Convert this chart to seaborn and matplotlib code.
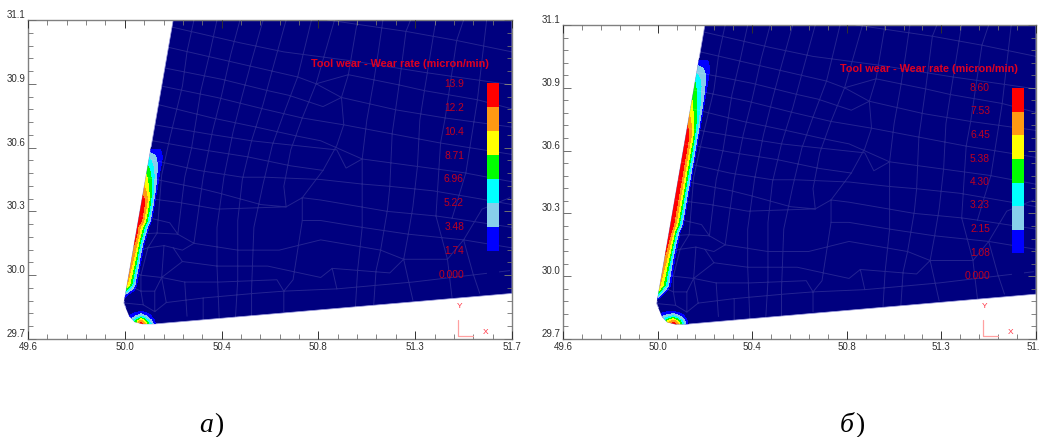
import numpy as np
import seaborn as sns
import matplotlib
matplotlib.use('Agg')
import matplotlib.pyplot as plt
from matplotlib.lines import Line2D
from matplotlib.patches import Polygon
from matplotlib.ticker import AutoMinorLocator

# Tool outline, mm
tool_outline = [(50.23, 31.10), (50.016, 29.858), (50.04, 29.80), (50.063, 29.775), (50.098, 29.766),
                (50.15, 29.766), (51.70, 29.90), (51.70, 31.10)]

# Finite element mesh (both panels use the same one)
mesh_rows = [
    [(50.90, 31.10), (51.24, 31.05), (51.46, 31.01), (51.70, 30.96)],
    [(50.22, 31.07), (50.52, 31.00), (50.71, 30.96), (51.01, 30.92), (51.32, 30.87), (51.70, 30.815)],
    [(50.21, 30.98), (50.77, 30.85), (50.85, 30.82), (50.96, 30.76), (51.20, 30.705), (51.41, 30.67), (51.70, 30.63)],
    [(50.85, 30.82), (50.99, 30.86), (51.21, 30.815), (51.32, 30.79), (51.55, 30.75), (51.70, 30.71)],
    [(50.19, 30.89), (50.44, 30.84), (50.64, 30.79), (50.73, 30.77), (50.88, 30.72), (50.96, 30.76)],
    [(50.18, 30.81), (50.42, 30.76), (50.62, 30.71), (50.79, 30.67), (50.97, 30.64), (51.18, 30.60), (51.39, 30.56), (51.70, 30.51)],
    [(50.16, 30.73), (50.40, 30.67), (50.59, 30.63), (50.77, 30.59), (50.87, 30.57), (51.05, 30.49), (51.27, 30.46), (51.49, 30.43), (51.70, 30.39)],
    [(50.15, 30.64), (50.38, 30.60), (50.57, 30.57), (50.66, 30.56), (50.94, 30.53), (50.98, 30.45), (51.05, 30.49)],
    [(50.14, 30.57), (50.36, 30.53), (50.55, 30.50), (50.74, 30.46), (50.88, 30.44)],
    [(50.12, 30.49), (50.34, 30.44), (50.53, 30.41), (50.63, 30.41), (50.87, 30.40), (51.05, 30.38), (51.17, 30.37), (51.36, 30.35), (51.59, 30.31), (51.70, 30.29)],
    [(50.11, 30.41), (50.35, 30.36), (50.43, 30.34), (50.61, 30.29), (50.72, 30.28), (50.79, 30.32)],
    [(50.10, 30.32), (50.25, 30.30), (50.42, 30.27), (50.72, 30.28)],
    [(50.79, 30.32), (50.87, 30.31), (51.16, 30.26), (51.37, 30.24), (51.44, 30.23), (51.70, 30.19)],
    [(50.09, 30.24), (50.215, 30.21), (50.25, 30.16), (50.32, 30.12), (50.51, 30.09), (50.69, 30.09), (50.87, 30.135), (51.13, 30.09), (51.23, 30.05), (51.42, 30.05), (51.49, 30.135), (51.57, 30.27), (51.69, 30.32)],
    [(50.79, 30.22), (50.87, 30.22), (51.05, 30.19), (51.25, 30.16), (51.49, 30.135), (51.70, 30.10)],
    [(50.07, 30.16), (50.16, 30.165), (50.25, 30.16)],
    [(50.055, 30.08), (50.12, 30.10), (50.19, 30.11), (50.23, 30.10), (50.27, 30.09), (50.32, 30.12)],
    [(50.04, 30.00), (50.09, 29.98), (50.18, 29.97), (50.27, 30.04), (50.42, 30.02), (50.64, 30.02), (50.87, 29.97), (50.92, 30.01), (51.17, 29.99), (51.23, 30.05)],
    [(50.18, 29.97), (50.28, 29.95), (50.43, 29.95), (50.68, 29.96), (50.71, 29.91)],
    [(50.025, 29.94), (50.09, 29.91), (50.15, 29.91), (50.18, 29.97)],
    [(50.016, 29.858), (50.10, 29.85), (50.15, 29.82), (50.20, 29.86), (50.36, 29.88), (50.58, 29.90), (50.71, 29.91), (50.94, 29.92), (51.27, 29.95), (51.69, 30.00)],
    [(50.09, 29.91), (50.10, 29.85)],
    [(50.15, 29.91), (50.15, 29.82)],
    [(50.92, 30.01), (50.94, 29.92)],
    [(50.19, 30.11), (50.18, 29.97)],
    [(50.23, 30.10), (50.27, 30.04)],
    [(50.20, 29.86), (50.18, 29.97)],
]
mesh_cols = [
    [(50.32, 31.10), (50.29, 30.96), (50.27, 30.81), (50.215, 30.58), (50.18, 30.42), (50.16, 30.165), (50.12, 30.10), (50.09, 29.98), (50.09, 29.91)],
    [(50.42, 31.10), (50.39, 30.96), (50.35, 30.79), (50.31, 30.54), (50.28, 30.41), (50.25, 30.16)],
    [(50.52, 31.10), (50.48, 30.95), (50.44, 30.77), (50.40, 30.61), (50.36, 30.41), (50.32, 30.12)],
    [(50.62, 31.10), (50.57, 30.92), (50.53, 30.77), (50.49, 30.61), (50.45, 30.41), (50.42, 30.19), (50.42, 30.02), (50.43, 29.78)],
    [(50.72, 31.10), (50.66, 30.88), (50.62, 30.73), (50.57, 30.57), (50.53, 30.40), (50.51, 30.22), (50.51, 29.96), (50.50, 29.79)],
    [(50.83, 31.10), (50.77, 30.85), (50.71, 30.69), (50.66, 30.55), (50.62, 30.38), (50.58, 30.19), (50.57, 29.915), (50.57, 29.80)],
    [(50.93, 31.10), (50.85, 30.82), (50.79, 30.67), (50.74, 30.53), (50.71, 30.37), (50.72, 30.28)],
    [(51.03, 31.10), (50.99, 30.86), (50.96, 30.76), (50.97, 30.64), (50.94, 30.55), (50.88, 30.44), (50.79, 30.32), (50.79, 30.22), (50.75, 29.96), (50.71, 29.91), (50.71, 29.82)],
    [(51.14, 31.10), (51.12, 30.96), (51.10, 30.83), (51.07, 30.66), (51.05, 30.49), (51.05, 30.38), (51.05, 30.19), (51.03, 30.00), (51.02, 29.83)],
    [(51.26, 31.10), (51.24, 31.05), (51.21, 30.815), (51.18, 30.60), (51.17, 30.37), (51.16, 30.27), (51.13, 30.09), (51.11, 30.00), (51.10, 29.85)],
    [(51.37, 31.10), (51.32, 30.79), (51.30, 30.66), (51.29, 30.46), (51.27, 30.28), (51.25, 30.16), (51.23, 30.05), (51.27, 29.87)],
    [(51.49, 31.10), (51.46, 31.01), (51.41, 30.67), (51.39, 30.56), (51.37, 30.24), (51.42, 30.05), (51.44, 29.88)],
    [(51.59, 31.10), (51.55, 30.75), (51.50, 30.43), (51.44, 30.23)],
    [(51.49, 30.135), (51.53, 29.99), (51.56, 29.90)],
    [(50.36, 29.88), (50.36, 29.78)],
    [(50.28, 29.95), (50.29, 29.80)],
]

# Wear along the flank: rows are heights along the edge, columns depth in from the edge
flank_depth = [0.0, 0.01, 0.02, 0.03, 0.04, 0.05, 0.06, 0.07]

flank_y_a = [29.87, 29.893, 29.92, 29.94, 30.04, 30.12, 30.17, 30.19, 30.22, 30.30, 30.33, 30.37, 30.42, 30.46, 30.50, 30.53, 30.54]
flank_wear_a = [
    [0, 0, 0, 0, 0, 0, 0, 0],
    [3, 1.5, 0.5, 0, 0, 0, 0, 0],
    [8, 6, 4.5, 3, 1.5, 0, 0, 0],
    [10.5, 9, 7, 4.5, 2, 0, 0, 0],
    [11.5, 10, 8, 5.2, 2.2, 0, 0, 0],
    [12.3, 10.8, 8.5, 5.5, 2.5, 0.2, 0, 0],
    [13, 11.5, 9.3, 7, 4.5, 1.5, 0, 0],
    [12.5, 11, 9.3, 7.5, 5, 2, 0.2, 0],
    [13.9, 13, 11.3, 9.3, 6.9, 4.3, 1, 0],
    [13.9, 13, 11.3, 9.3, 6.9, 4.3, 1, 0],
    [12.2, 11.4, 10.2, 8.5, 6.4, 4, 1.1, 0],
    [10.5, 9.6, 8.5, 7.2, 5.5, 3.6, 1.2, 0],
    [8.8, 8, 7, 5.8, 4.4, 3, 1.2, 0],
    [7, 6.3, 5.4, 4.5, 3.6, 2.6, 1.4, 0],
    [5, 4.4, 3.9, 3.4, 2.9, 2.3, 1.5, 0],
    [2.5, 2.4, 2.3, 2.2, 2, 1.2, 0, 0],
    [0, 0, 0, 0, 0, 0, 0, 0],
]

flank_y_b = [29.87, 29.89, 29.92, 29.94, 30.04, 30.12, 30.18, 30.21, 30.35, 30.60, 30.65, 30.72, 30.84, 30.91, 30.94, 30.95]
flank_wear_b = [
    [0, 0, 0, 0, 0, 0, 0, 0],
    [3, 1.5, 0.5, 0, 0, 0, 0, 0],
    [6, 4.5, 3, 2, 1, 0, 0, 0],
    [6.5, 5.8, 4.8, 3.5, 2, 0.8, 0, 0],
    [7.3, 6.4, 5.2, 3.6, 1.8, 0.6, 0, 0],
    [7.8, 7, 5.7, 4, 2, 0.7, 0, 0],
    [8.4, 7.5, 6.2, 4.5, 2.8, 1, 0, 0],
    [8.6, 8, 7, 5.8, 4.3, 2.7, 0.6, 0],
    [8.6, 8, 7, 5.8, 4.3, 2.7, 0.6, 0],
    [8.6, 8, 7, 5.8, 4.3, 2.7, 0.6, 0],
    [7.6, 7, 6.2, 5.2, 4, 2.6, 0.7, 0],
    [6, 5.5, 4.9, 4.2, 3.4, 2.4, 0.7, 0],
    [4.4, 4, 3.6, 3.1, 2.6, 1.9, 0.7, 0],
    [2.5, 2.3, 2.2, 2, 1.8, 1.4, 0.7, 0],
    [1.2, 1.2, 1.2, 1.2, 1.1, 0.2, 0, 0],
    [0, 0, 0, 0, 0, 0, 0, 0],
]

# Wear around the nose
nose_x = [50.02, 50.046, 50.07, 50.09, 50.11, 50.133, 50.155]
nose_y = [29.76, 29.78, 29.80, 29.82, 29.835]
nose_wear_a = [
    [2, 5, 10, 13.9, 11, 6, 1.5],
    [1.5, 4, 7.5, 11.5, 8, 4, 1],
    [0.5, 2.3, 3.8, 5.2, 3.8, 2, 0],
    [0, 0.8, 1.4, 1.8, 1.4, 0.5, 0],
    [0, 0, 0, 0, 0, 0, 0],
]
nose_wear_b = [
    [2.5, 5.5, 7.8, 8.6, 7.5, 4, 1.2],
    [2, 4, 5.8, 7.2, 5.5, 3, 0.8],
    [0.8, 2.4, 3.2, 3.6, 2.8, 1.6, 0],
    [0, 1, 1.2, 1.3, 1, 0.3, 0],
    [0, 0, 0, 0, 0, 0, 0],
]

levels_a = [0, 1.74, 3.48, 5.22, 6.96, 8.71, 10.4, 12.2, 13.9]
labels_a = ['0.000', '1.74', '3.48', '5.22', '6.96', '8.71', '10.4', '12.2', '13.9']
levels_b = [0, 1.08, 2.15, 3.23, 4.30, 5.38, 6.45, 7.53, 8.60]
labels_b = ['0.000', '1.08', '2.15', '3.23', '4.30', '5.38', '6.45', '7.53', '8.60']

x_ticks = [49.6, 50.02, 50.44, 50.86, 51.28, 51.70]
x_labels = ['49.6', '50.0', '50.4', '50.8', '51.3', '51.7']
y_ticks = [29.7, 29.98, 30.26, 30.54, 30.82, 31.10]
y_labels = ['29.7', '30.0', '30.3', '30.6', '30.9', '31.1']

band_colors = ['#00007f', '#0000ff', '#87ceeb', '#00ffff', '#00ff00', '#ffff00', '#ff9912', '#ff0000']

title = 'Tool wear - Wear rate (micron/min)'
W, H = 1039, 437


def fx(px):
    return px / W


def fy(py):
    return 1 - py / H


def draw_panel(box, flank_y, flank_wear, nose_wear, levels, labels, lay):
    left, top, right, bottom = box
    ax = fig.add_axes([fx(left), fy(bottom), fx(right - left), (bottom - top) / H])
    ax.set_xlim(49.6, 51.70)
    ax.set_ylim(29.7, 31.10)

    tool = Polygon(tool_outline, closed=True, facecolor=band_colors[0], edgecolor='#a0a0e0', linewidth=0.5, zorder=1)
    ax.add_patch(tool)

    # flank contours follow the slanted edge
    depth_grid, y_grid = np.meshgrid(flank_depth, flank_y)
    edge_x = np.interp(y_grid, [29.858, 31.10], [50.016, 50.23])
    cs = ax.contourf(edge_x + depth_grid, y_grid, np.array(flank_wear), levels=levels, colors=band_colors, zorder=2)
    cs.set_clip_path(tool)
    cs2 = ax.contourf(nose_x, nose_y, np.array(nose_wear), levels=levels, colors=band_colors, zorder=2)
    cs2.set_clip_path(tool)

    # one path with gaps, so shared segments do not get brighter
    xs, ys = [], []
    for line in mesh_rows + mesh_cols:
        xs += [p[0] for p in line] + [np.nan]
        ys += [p[1] for p in line] + [np.nan]
    ax.plot(xs, ys, color='white', alpha=0.14, lw=0.7, zorder=3)

    for s in ax.spines.values():
        s.set_color('#808080')
        s.set_linewidth(1.0)
    ax.set_xticks(x_ticks)
    ax.set_xticklabels(x_labels)
    ax.set_yticks(y_ticks)
    ax.set_yticklabels(y_labels, va='bottom')
    ax.xaxis.set_minor_locator(AutoMinorLocator(5))
    ax.yaxis.set_minor_locator(AutoMinorLocator(5))
    ax.tick_params(axis='both', which='both', direction='in', top=True, right=True, left=True, bottom=True, zorder=5)
    ax.tick_params(axis='x', which='major', length=6, width=0.7, color='#303030', labelsize=7, labelcolor='#303030', pad=2.5)
    ax.tick_params(axis='y', which='major', length=6, width=0.7, color='#707070', labelsize=7, labelcolor='#303030', pad=1.5)
    ax.tick_params(axis='both', which='minor', length=3.6, width=0.6, color='#707070')
    ax.set_axisbelow(False)

    fig.text(fx(lay['title_x']), fy(lay['title_y']), title, color='#e00020', fontsize=7.8, fontweight='bold',
             ha='left', va='center')
    for lab, py in zip(labels, np.linspace(lay['val_bottom'], lay['val_top'], len(labels))):
        fig.text(fx(lay['val_x']), fy(py), lab, color='#c00020', fontsize=7.4, ha='right', va='center')

    # colour key, lowest cell is the navy one and melts into the tool
    key = fig.add_axes([fx(lay['key_l']), fy(lay['key_b']), fx(lay['key_r'] - lay['key_l']), (lay['key_b'] - lay['key_t']) / H])
    cells = np.arange(len(band_colors))[::-1].reshape(-1, 1)
    sns.heatmap(cells, ax=key, cmap=band_colors, cbar=False, xticklabels=False, yticklabels=False)
    key.tick_params(length=0)

    # XY triad
    tx, ty = lay['tri_x'], lay['tri_y']
    fig.add_artist(Line2D([fx(tx), fx(tx), fx(tx + 15)], [fy(ty - 16), fy(ty), fy(ty)], color='#ffa0a0', lw=0.9))
    fig.text(fx(tx + 2), fy(ty - 29), 'Y', color='#ff3040', fontsize=6, ha='center', va='center')
    fig.text(fx(tx + 28), fy(ty - 3), 'X', color='#ff3040', fontsize=6, ha='center', va='center')
    return ax


sns.set_theme(style='white')
plt.rcParams['font.family'] = ['Liberation Sans', 'DejaVu Sans']

fig = plt.figure(figsize=(W / 100, H / 100), dpi=100, facecolor='white')

draw_panel((28, 20, 512, 339), flank_y_a, flank_wear_a, nose_wear_a, levels_a, labels_a,
           dict(title_x=311, title_y=64, val_x=464, val_top=84, val_bottom=275,
                key_l=487, key_r=499, key_t=83, key_b=275, tri_x=457.5, tri_y=336))
draw_panel((563, 25, 1036, 339), flank_y_b, flank_wear_b, nose_wear_b, levels_b, labels_b,
           dict(title_x=840, title_y=69, val_x=990, val_top=88, val_bottom=276,
                key_l=1012, key_r=1024, key_t=88, key_b=277, tri_x=983, tri_y=336))

# panel captions
for x_let, let in [(199, 'а'), (840, 'б')]:
    fig.text(fx(x_let), fy(426), let, family='Liberation Serif', style='italic', fontsize=20, ha='left', va='center', color='black')
    fig.text(fx(x_let + 15), fy(426), ')', family='Liberation Serif', fontsize=20, ha='left', va='center', color='black')

fig.savefig('out.png', dpi=100)
